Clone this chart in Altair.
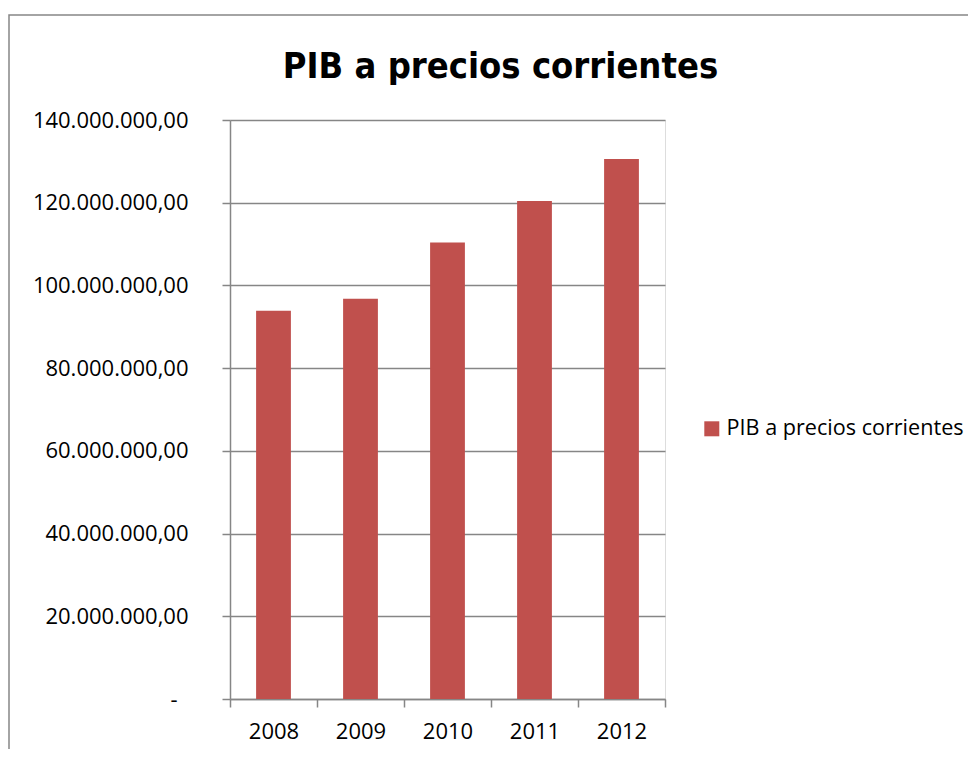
import altair as alt
import pandas as pd

years = ["2008", "2009", "2010", "2011", "2012"]
values = [93900000, 96800000, 110400000, 120400000, 130600000]
series = "PIB a precios corrientes"
y_ticks = [0, 20000000, 40000000, 60000000, 80000000, 100000000, 120000000, 140000000]

df = pd.DataFrame({"year": years, "value": values, "serie": [series] * len(years)})

FONT = "Open Sans"
GRAY = "#868686"

border = alt.Chart(pd.DataFrame({"k": [0]})).mark_rect(
    fill=None, stroke=GRAY, strokeWidth=1.5
).encode(
    x=alt.value(-221), x2=alt.value(900), y=alt.value(-105), y2=alt.value(800)
)

bars = alt.Chart(df).mark_bar(color="#C0504D", width=alt.RelativeBandSize(0.4)).encode(
    x=alt.X("year:N", title=None, sort=years,
            scale=alt.Scale(paddingInner=0, paddingOuter=0),
            axis=alt.Axis(labelAngle=0, tickBand="extent", domainColor=GRAY, tickColor=GRAY,
                          domainWidth=1.5, tickWidth=1.5, tickSize=8, labelPadding=14,
                          labelFont=FONT, labelFontSize=22, labelColor="#000000", grid=False)),
    y=alt.Y("value:Q", title=None,
            scale=alt.Scale(domain=[0, 140000000], nice=False),
            axis=alt.Axis(values=y_ticks, grid=True, gridColor=GRAY, gridWidth=1.5,
                          domainColor=GRAY, tickColor=GRAY, domainWidth=1.5, tickWidth=1.5,
                          tickSize=8,
                          labelPadding={"condition": {"test": "datum.value == 0", "value": 45}, "value": 34},
                          labelFont=FONT, labelFontSize=22,
                          labelColor="#000000",
                          labelExpr="datum.value == 0 ? '-' : format(datum.value / 1000000, 'd') + '.000.000,00'")),
    color=alt.Color("serie:N", scale=alt.Scale(range=["#C0504D"]),
                    legend=alt.Legend(title=None, orient="none", legendX=471, legendY=298,
                                      symbolType="square", symbolSize=225, symbolStrokeWidth=0,
                                      labelFont=FONT, labelFontSize=21.6, labelColor="#000000",
                                      labelOffset=4, labelLimit=400)),
)

chart = alt.layer(border, bars).properties(
    width=435, height=579,
    title=alt.Title(series, font="DejaVu Sans Condensed, Roboto Condensed, Roboto", fontSize=36,
                    fontWeight="bold", color="#000000", anchor="middle", dx=53, offset=-100,
                    baseline="alphabetic"),
    autosize=alt.AutoSizeParams(type="none"),
    padding={"left": 222, "top": 112, "right": 303, "bottom": 50},
).configure_view(stroke=None).configure(background="white")

chart.save("out.html", embed_options={"renderer": "svg", "actions": False})
